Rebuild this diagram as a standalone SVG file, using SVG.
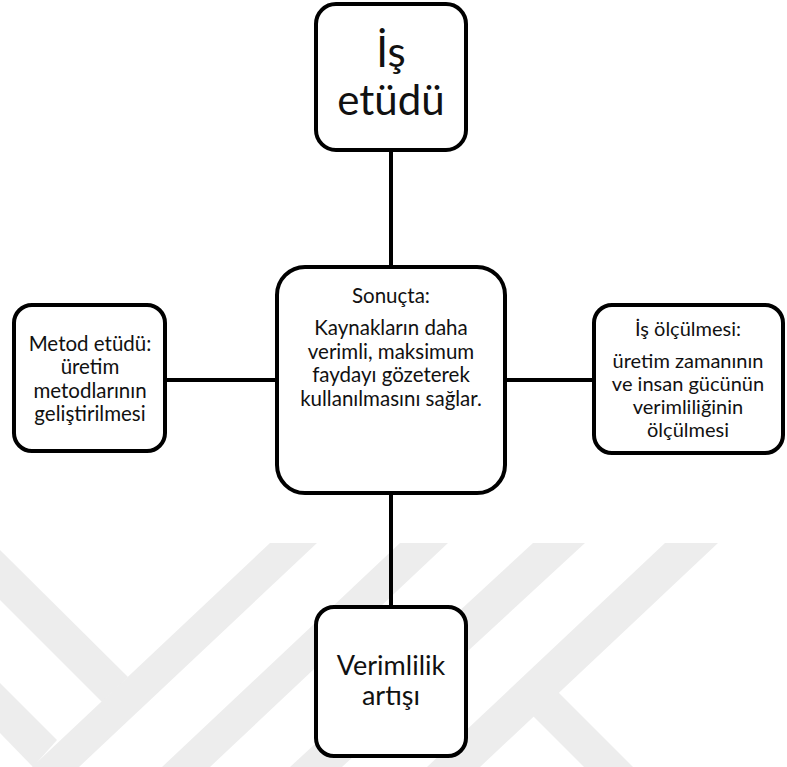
<svg xmlns="http://www.w3.org/2000/svg" width="787" height="767" viewBox="0 0 787 767">
<style>
.box{fill:#ffffff;stroke:#000000;stroke-width:4}
.wire{stroke:#000000;stroke-width:4;fill:none}
.wm{fill:#ededed}
text{font-family:Lato,"Open Sans","Liberation Sans",sans-serif;fill:#111111;text-anchor:middle}
.ts{font-size:20.5px}
.tr{font-size:20px}
.tb{font-size:27px}
.tt{font-size:42px}
</style>
<rect x="0" y="0" width="787" height="767" fill="#ffffff"/>
<g id="watermark">
<polygon class="wm" points="0,550 128,677 102,702 0,600"/>
<polygon class="wm" points="0,683 57,740 33,767 0,733"/>
<polygon class="wm" points="270,543 317,543 79,767 32,767"/>
<polygon class="wm" points="400,543 448,543 210,767 162,767"/>
<polygon class="wm" points="533,543 585,543 342,767 290,767"/>
<polygon class="wm" points="665,543 718,543 480,767 427,767"/>
<polygon class="wm" points="556,690 563,697 633,767 584,767 533,716"/>
</g>
<g id="connectors">
<line class="wire" x1="391" y1="150" x2="391" y2="267"/>
<line class="wire" x1="391" y1="493" x2="391" y2="607"/>
<line class="wire" x1="165" y1="380" x2="277" y2="380"/>
<line class="wire" x1="505" y1="380" x2="594" y2="380"/>
</g>
<g id="node-is-etudu">
<rect class="box" x="316" y="4" width="150" height="146" rx="20"/>
<text class="tt" x="391" y="67">İş</text>
<text class="tt" x="391" y="115">etüdü</text>
</g>
<g id="node-sonucta">
<rect class="box" x="277" y="267" width="228" height="226" rx="28"/>
<text class="ts" x="391" y="303">Sonuçta:</text>
<text class="ts" x="391" y="335">Kaynakların daha</text>
<text class="ts" x="391" y="358.5">verimli, maksimum</text>
<text class="ts" x="391" y="382">faydayı gözeterek</text>
<text class="ts" x="391" y="405.5">kullanılmasını sağlar.</text>
</g>
<g id="node-metod-etudu">
<rect class="box" x="14" y="305" width="151" height="146" rx="18"/>
<text class="ts" x="90" y="350.5">Metod etüdü:</text>
<text class="ts" x="90" y="374">üretim</text>
<text class="ts" x="90" y="397.5">metodlarının</text>
<text class="ts" x="90" y="421">geliştirilmesi</text>
</g>
<g id="node-is-olculmesi">
<rect class="box" x="594" y="305" width="189" height="148" rx="18"/>
<text class="tr" x="688" y="336">İş ölçülmesi:</text>
<text class="tr" x="688" y="368">üretim zamanının</text>
<text class="tr" x="688" y="391">ve insan gücünün</text>
<text class="tr" x="688" y="414">verimliliğinin</text>
<text class="tr" x="688" y="437">ölçülmesi</text>
</g>
<g id="node-verimlilik">
<rect class="box" x="316" y="607" width="150" height="149" rx="18"/>
<text class="tb" x="391" y="675">Verimlilik</text>
<text class="tb" x="391" y="705">artışı</text>
</g>
</svg>
